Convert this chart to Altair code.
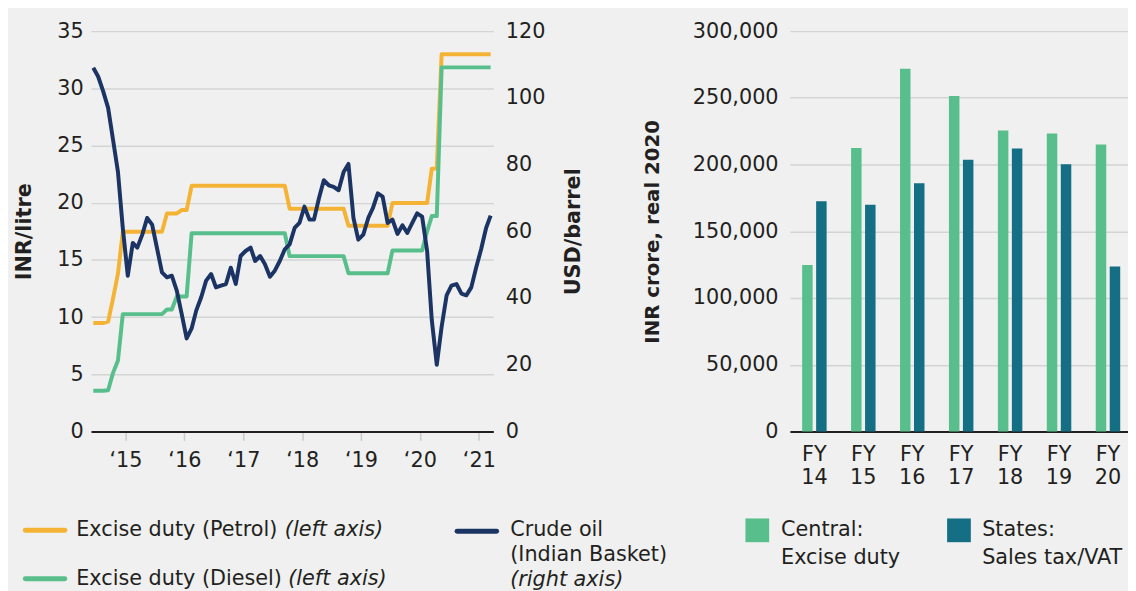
import altair as alt
import pandas as pd

# ---------------- data ----------------
years_months = [(2014, m) for m in range(6, 13)] + \
               [(y, m) for y in range(2015, 2021) for m in range(1, 13)] + \
               [(2021, m) for m in range(1, 4)]
months = [f"{y:04d}-{m:02d}-15" for y, m in years_months]

petrol = [
    9.48, 9.48, 9.48, 9.6, 11.6, 13.8, 17.46,                                  # 2014 Jun-Dec
    17.46, 17.46, 17.46, 17.46, 17.46, 17.46, 17.46, 17.46, 19.06, 19.06, 19.06, 19.36,  # 2015
    19.36, 21.48, 21.48, 21.48, 21.48, 21.48, 21.48, 21.48, 21.48, 21.48, 21.48, 21.48,  # 2016
    21.48, 21.48, 21.48, 21.48, 21.48, 21.48, 21.48, 21.48, 21.48, 19.48, 19.48, 19.48,  # 2017
    19.48, 19.48, 19.48, 19.48, 19.48, 19.48, 19.48, 19.48, 19.48, 17.98, 17.98, 17.98,  # 2018
    17.98, 17.98, 17.98, 17.98, 17.98, 17.98, 19.98, 19.98, 19.98, 19.98, 19.98, 19.98,  # 2019
    19.98, 19.98, 22.98, 22.98, 32.98, 32.98, 32.98, 32.98, 32.98, 32.98, 32.98, 32.98,  # 2020
    32.98, 32.98, 32.98,                                                        # 2021 Jan-Mar
]
diesel = [
    3.56, 3.56, 3.56, 3.6, 5.1, 6.2, 10.26,
    10.26, 10.26, 10.26, 10.26, 10.26, 10.26, 10.26, 10.26, 10.66, 10.66, 11.8, 11.8,
    11.8, 17.33, 17.33, 17.33, 17.33, 17.33, 17.33, 17.33, 17.33, 17.33, 17.33, 17.33,
    17.33, 17.33, 17.33, 17.33, 17.33, 17.33, 17.33, 17.33, 17.33, 15.33, 15.33, 15.33,
    15.33, 15.33, 15.33, 15.33, 15.33, 15.33, 15.33, 15.33, 15.33, 13.83, 13.83, 13.83,
    13.83, 13.83, 13.83, 13.83, 13.83, 13.83, 15.83, 15.83, 15.83, 15.83, 15.83, 15.83,
    15.83, 17.5, 18.83, 18.83, 31.83, 31.83, 31.83, 31.83, 31.83, 31.83, 31.83, 31.83,
    31.83, 31.83, 31.83,
]
crude = [
    109.0, 106.4, 102.0, 97.0, 87.6, 77.8, 61.0,
    46.7, 56.5, 55.1, 59.0, 64.0, 62.0, 55.0, 47.7, 46.2, 46.7, 42.2, 35.3,
    27.9, 30.9, 36.3, 40.3, 45.2, 47.2, 43.2, 43.7, 44.2, 49.1, 44.2, 52.6,
    54.1, 55.1, 51.1, 52.6, 50.1, 46.4, 48.2, 51.1, 54.6, 56.1, 61.0, 62.5,
    67.4, 63.5, 63.5, 69.9, 75.3, 73.8, 73.3, 72.3, 77.8, 80.2, 64.0, 57.5,
    59.0, 64.0, 66.9, 71.4, 70.4, 62.5, 63.5, 59.2, 61.8, 59.5, 62.5, 65.4,
    64.4, 54.1, 33.4, 20.0, 31.4, 40.8, 43.7, 44.2, 41.3, 40.8, 43.2, 49.1,
    54.6, 61.0, 64.7,
]

fiscal_years = ["FY 14", "FY 15", "FY 16", "FY 17", "FY 18", "FY 19", "FY 20"]
central_excise = [124700, 212500, 271800, 251400, 225600, 223200, 215000]
states_vat = [172600, 169900, 186000, 203600, 212000, 200300, 123700]

# ---------------- style ----------------
FONT = "DejaVu Sans"
TXT = "#231f20"
BG = "#eff0ef"
GRID = "#d3d5d4"
ORANGE = "#f5b335"
GREEN = "#58bf8c"
NAVY = "#1b3464"
TEAL = "#156f84"

lines_df = pd.DataFrame({"date": months, "petrol": petrol, "diesel": diesel, "crude": crude})

x_enc = alt.X(
    "date:T",
    scale=alt.Scale(domain=[alt.DateTime(year=2014, month=6, date=1),
                            alt.DateTime(year=2021, month=4, date=1)]),
    axis=alt.Axis(
        values=[alt.DateTime(year=y, month=1, date=1) for y in range(2015, 2022)],
        labelExpr="'\u2018' + timeFormat(datum.value, '%y')",
        title=None, grid=False, domainColor=TXT, domainWidth=2,
        tickColor="#c9cbca", tickSize=9, tickWidth=1.5, labelPadding=9,
    ),
)

duties = alt.Chart(lines_df).transform_fold(
    ["petrol", "diesel"], as_=["fuel", "value"]
).mark_line(strokeWidth=4, strokeJoin="round").encode(
    x=x_enc,
    y=alt.Y("value:Q", scale=alt.Scale(domain=[0, 35]),
            axis=alt.Axis(values=[0, 5, 10, 15, 20, 25, 30, 35], title="INR/litre",
                          grid=True, gridColor=GRID, gridWidth=1.5, ticks=False,
                          domain=False, labelPadding=8, titlePadding=23, titleFontSize=21)),
    color=alt.Color("fuel:N", scale=alt.Scale(domain=["petrol", "diesel"], range=[ORANGE, GREEN]),
                    legend=None),
)

oil = alt.Chart(lines_df).mark_line(strokeWidth=4, strokeJoin="round", color=NAVY).encode(
    x=x_enc,
    y=alt.Y("crude:Q", scale=alt.Scale(domain=[0, 120]),
            axis=alt.Axis(orient="right", values=[0, 20, 40, 60, 80, 100, 120],
                          title="USD/barrel", titleAngle=270, titleBaseline="top",
                          grid=False, ticks=False, domain=False, labelPadding=12,
                          titlePadding=18, titleFontSize=21)),
)

left = alt.layer(duties, oil).resolve_scale(y="independent").properties(width=407, height=405)

bars_df = pd.DataFrame({
    "fy": fiscal_years * 2,
    "kind": ["Central"] * 7 + ["States"] * 7,
    "revenue": central_excise + states_vat,
})

right = alt.Chart(bars_df).mark_bar().encode(
    x=alt.X("fy:N", sort=fiscal_years,
            scale=alt.Scale(paddingInner=0.5, paddingOuter=0.2045, align=0.611),
            axis=alt.Axis(title=None, labelAngle=0, labelExpr="split(datum.label, ' ')",
                          labelLineHeight=24, labelPadding=12, ticks=False,
                          domainColor=TXT, domainWidth=2)),
    xOffset=alt.XOffset("kind:N", sort=["Central", "States"],
                        scale=alt.Scale(paddingInner=0.25, paddingOuter=0)),
    y=alt.Y("revenue:Q", scale=alt.Scale(domain=[0, 300000]),
            axis=alt.Axis(values=[0, 50000, 100000, 150000, 200000, 250000, 300000],
                          format=",d", title="INR crore, real 2020", grid=True,
                          gridColor=GRID, gridWidth=1.5, ticks=False, domain=False,
                          labelPadding=12, titlePadding=30)),
    color=alt.Color("kind:N", scale=alt.Scale(domain=["Central", "States"], range=[GREEN, TEAL]),
                    legend=None),
).properties(width=342, height=405)

# ---------------- legend (positions relative to left plot origin) ----------------
one = pd.DataFrame({"k": [0]})


def dash(x1, x2, y, color):
    return alt.Chart(one).mark_rule(strokeWidth=5, strokeCap="round", color=color).encode(
        x=alt.value(x1), x2=alt.value(x2), y=alt.value(y))


def label(x, y, s, italic=False):
    return alt.Chart(one).mark_text(
        align="left", baseline="middle", font=FONT, fontSize=21, color=TXT,
        fontStyle="italic" if italic else "normal",
    ).encode(x=alt.value(x), y=alt.value(y), text=alt.value(s))


def square(x1, x2, y1, y2, color):
    return alt.Chart(one).mark_rect(color=color).encode(
        x=alt.value(x1), x2=alt.value(x2), y=alt.value(y1), y2=alt.value(y2))


legend = alt.layer(
    dash(-66.5, -26.5, 29, ORANGE),
    label(-15, 29, "Excise duty (Petrol)"),
    label(196, 29, "(left axis)", italic=True),
    dash(-66.5, -26.5, 78, GREEN),
    label(-15, 78, "Excise duty (Diesel)"),
    label(199.5, 78, "(left axis)", italic=True),
    dash(370.3, 410.3, 30, NAVY),
    label(424, 29, "Crude oil"),
    label(424, 54, "(Indian Basket)"),
    label(424, 79, "(right axis)", italic=True),
    square(662, 686, 17, 41, GREEN),
    label(698, 29, "Central:"),
    label(698, 57, "Excise duty"),
    square(866, 890, 17, 41, TEAL),
    label(901.5, 29, "States:"),
    label(901.5, 57, "Sales tax/VAT"),
).properties(width=1030, height=78)

chart = alt.vconcat(
    alt.hconcat(left, right, spacing=59).resolve_scale(color="independent"),
    legend,
    spacing=14,
).configure(
    background=BG,
    padding={"left": 5, "top": 9, "right": 0, "bottom": 0},
    font=FONT,
).configure_view(stroke=None).configure_axis(
    labelFont=FONT, labelFontSize=21, labelColor=TXT,
    titleFont=FONT, titleFontSize=20, titleFontWeight="bold", titleColor=TXT,
)

chart.save("out.html", embed_options={"renderer": "svg", "actions": False})
